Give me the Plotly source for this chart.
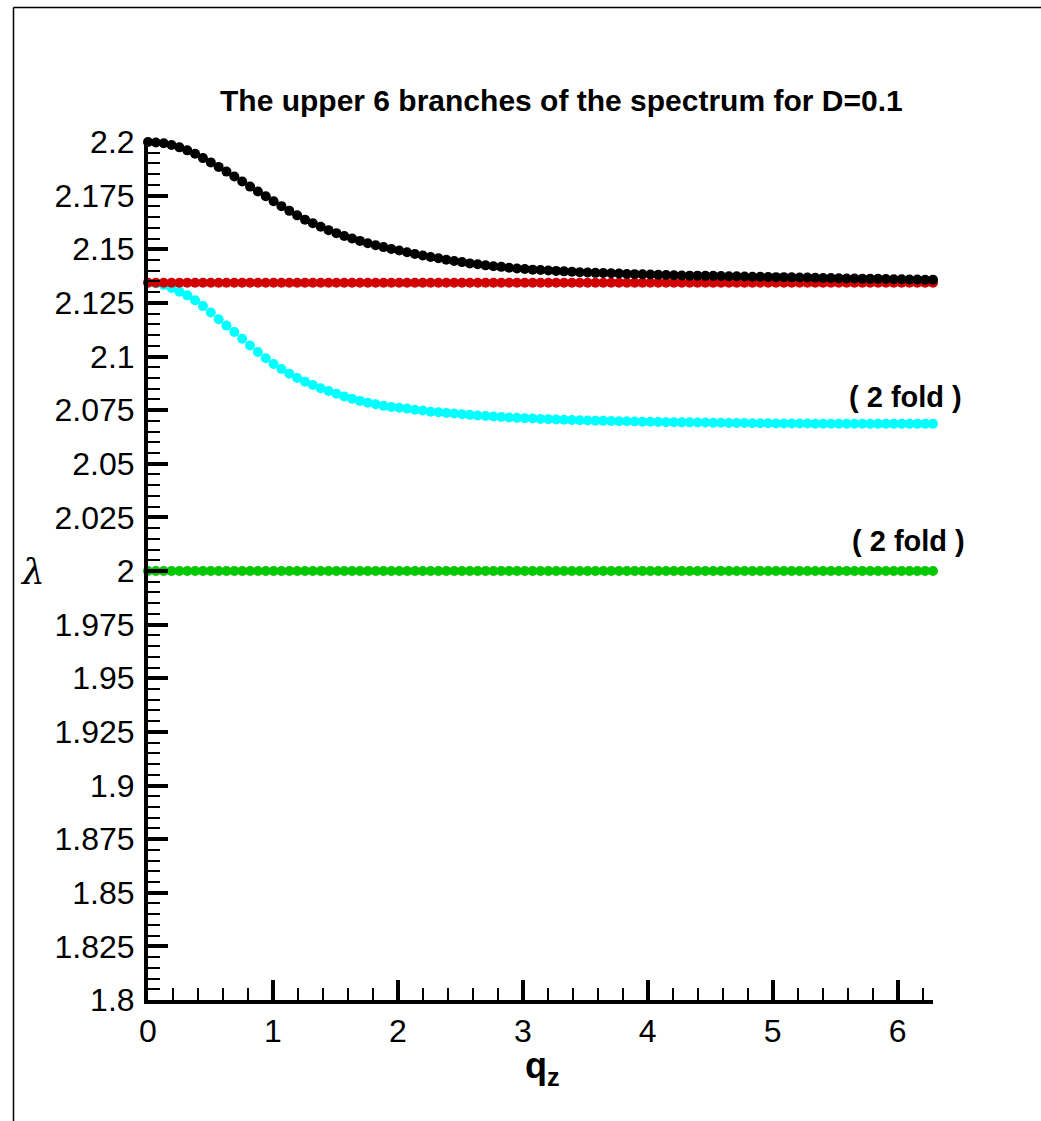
import math
import plotly.graph_objects as go

# ---------------- data ----------------
N_POINTS = 101
q_values = [k * 2 * math.pi / (N_POINTS - 1) for k in range(N_POINTS)]

black_branch = [
    2.2000, 2.1998, 2.1994, 2.1986, 2.1975, 2.1961, 2.1945, 2.1925, 2.1905, 2.1884,
    2.1862, 2.1839, 2.1816, 2.1792, 2.1769, 2.1747, 2.1724, 2.1701, 2.1679, 2.1658,
    2.1638, 2.1621, 2.1605, 2.1589, 2.1575, 2.1562, 2.1550, 2.1539, 2.1528, 2.1519,
    2.1510, 2.1501, 2.1494, 2.1486, 2.1478, 2.1471, 2.1464, 2.1458, 2.1451, 2.1445,
    2.1440, 2.1434, 2.1430, 2.1425, 2.1421, 2.1418, 2.1414, 2.1410, 2.1408, 2.1405,
    2.1403, 2.1401, 2.1399, 2.1397, 2.1395, 2.1393, 2.1392, 2.1390, 2.1389, 2.1388,
    2.1387, 2.1385, 2.1384, 2.1383, 2.1382, 2.1381, 2.1380, 2.1379, 2.1378, 2.1377,
    2.1377, 2.1376, 2.1376, 2.1375, 2.1374, 2.1374, 2.1373, 2.1372, 2.1372, 2.1371,
    2.1370, 2.1370, 2.1369, 2.1368, 2.1368, 2.1367, 2.1366, 2.1366, 2.1365, 2.1364,
    2.1364, 2.1363, 2.1362, 2.1362, 2.1361, 2.1360, 2.1360, 2.1359, 2.1359, 2.1358,
    2.1358,
]

red_branch = [2.1344] * N_POINTS

cyan_branch = [
    2.1344, 2.1341, 2.1333, 2.1319, 2.1302, 2.1285, 2.1262, 2.1235, 2.1205, 2.1174,
    2.1144, 2.1114, 2.1083, 2.1051, 2.1021, 2.0992, 2.0965, 2.0942, 2.0920, 2.0900,
    2.0882, 2.0867, 2.0852, 2.0839, 2.0826, 2.0814, 2.0803, 2.0793, 2.0784, 2.0777,
    2.0770, 2.0765, 2.0761, 2.0757, 2.0752, 2.0748, 2.0743, 2.0740, 2.0737, 2.0734,
    2.0731, 2.0728, 2.0725, 2.0723, 2.0720, 2.0718, 2.0716, 2.0714, 2.0712, 2.0711,
    2.0709, 2.0708, 2.0706, 2.0705, 2.0704, 2.0703, 2.0702, 2.0701, 2.0700, 2.0699,
    2.0698, 2.0698, 2.0697, 2.0696, 2.0696, 2.0695, 2.0694, 2.0694, 2.0693, 2.0693,
    2.0692, 2.0692, 2.0691, 2.0691, 2.0690, 2.0690, 2.0690, 2.0689, 2.0689, 2.0689,
    2.0688, 2.0688, 2.0688, 2.0688, 2.0688, 2.0687, 2.0687, 2.0687, 2.0687, 2.0687,
    2.0687, 2.0687, 2.0686, 2.0686, 2.0686, 2.0686, 2.0686, 2.0686, 2.0686, 2.0686,
    2.0686,
]

green_branch = [2.0] * N_POINTS

y_tickvals = [1.8, 1.825, 1.85, 1.875, 1.9, 1.925, 1.95, 1.975, 2.0,
              2.025, 2.05, 2.075, 2.1, 2.125, 2.15, 2.175, 2.2]
y_ticktext = ["1.8", "1.825", "1.85", "1.875", "1.9", "1.925", "1.95", "1.975", "2",
              "2.025", "2.05", "2.075", "2.1", "2.125", "2.15", "2.175", "2.2"]
x_tickvals = [0, 1, 2, 3, 4, 5, 6]
x_ticktext = ["0", "1", "2", "3", "4", "5", "6"]

title_text = "The upper 6 branches of the spectrum for D=0.1"
fold_label = "( 2 fold )"

# ---------------- figure ----------------
FONT = "Liberation Sans, Arial, Helvetica, sans-serif"
fig = go.Figure()

series = [
    (green_branch, "rgb(0,200,0)"),
    (cyan_branch, "rgb(0,255,255)"),
    (red_branch, "rgb(210,0,0)"),
    (black_branch, "rgb(0,0,0)"),
]
for ys, col in series:
    fig.add_trace(go.Scatter(
        x=q_values, y=ys, mode="markers",
        marker=dict(size=10, color=col, line=dict(width=0)),
        cliponaxis=False, showlegend=False, hoverinfo="skip",
    ))

fig.update_layout(
    width=1041, height=1121,
    margin=dict(l=148, r=108, t=142, b=121),
    paper_bgcolor="white", plot_bgcolor="white",
    font=dict(family=FONT, color="black"),
    showlegend=False,
)

fig.update_xaxes(
    range=[0, 2 * math.pi],
    showgrid=False, zeroline=False,
    showline=True, linecolor="black", linewidth=4,
    ticks="inside", ticklen=20, tickwidth=4, tickcolor="black",
    tickvals=x_tickvals, ticktext=x_ticktext,
    tickfont=dict(size=32, family=FONT, color="black"),
    minor=dict(dtick=0.2, tick0=0, ticks="inside", ticklen=12, tickwidth=2,
               tickcolor="black", showgrid=False),
)
fig.update_yaxes(
    range=[1.8, 2.2],
    showgrid=False, zeroline=False,
    showline=True, linecolor="black", linewidth=4,
    ticks="inside", ticklen=20, tickwidth=4, tickcolor="black",
    tickvals=y_tickvals, ticktext=y_ticktext,
    tickfont=dict(size=32, family=FONT, color="black"),
    ticklabelstandoff=3,
    minor=dict(dtick=0.005, tick0=1.8, ticks="inside", ticklen=12, tickwidth=2,
               tickcolor="black", showgrid=False),
)

def px_x(px):
    return (px - 148) / 785.0

def px_y(py):
    return (1000 - py) / 858.0

annotations = [
    dict(text="<b>" + title_text + "</b>", x=px_x(561), y=px_y(100),
         font=dict(size=30, family=FONT)),
    dict(text="<b>" + fold_label + "</b>", x=px_x(905), y=px_y(397),
         font=dict(size=29, family=FONT)),
    dict(text="<b>" + fold_label + "</b>", x=px_x(908), y=px_y(541),
         font=dict(size=29, family=FONT)),
    dict(text="<i>λ</i>", x=px_x(32), y=px_y(571),
         font=dict(size=36, family="DejaVu Serif, Liberation Serif, serif")),
    dict(text="<b>q<sub>z</sub></b>", x=px_x(542), y=px_y(1068),
         font=dict(size=36, family=FONT)),
]
for a in annotations:
    fig.add_annotation(xref="paper", yref="paper", showarrow=False,
                       xanchor="center", yanchor="middle", **a)

# outer frame (top and left edges)
fig.add_shape(type="line", xref="paper", yref="paper",
              x0=px_x(13.5), x1=px_x(1045), y0=px_y(7.5), y1=px_y(7.5),
              line=dict(color="black", width=1.5))
fig.add_shape(type="line", xref="paper", yref="paper",
              x0=px_x(13.5), x1=px_x(13.5), y0=px_y(7.5), y1=px_y(1125),
              line=dict(color="black", width=1.5))

fig.write_html("out.html", config={"displayModeBar": False},
               post_script="document.body.style.margin='0px';")
